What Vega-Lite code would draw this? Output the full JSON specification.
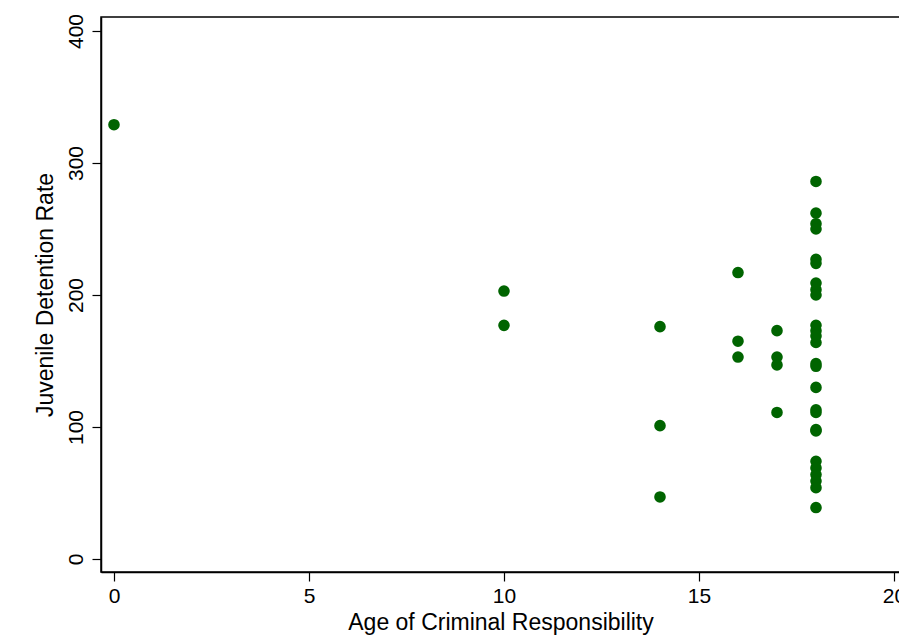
{
  "$schema": "https://vega.github.io/schema/vega-lite/v6.json",
  "autosize": {"type": "none"},
  "padding": {"left": 101, "top": 17, "right": 0, "bottom": 69},
  "width": 799,
  "height": 555,
  "background": "white",
  "config": {
    "view": {"stroke": "black", "strokeWidth": 1.5},
    "font": "Liberation Sans"
  },
  "data": {
    "values": [
      {"age": 0, "rate": 329},
      {"age": 10, "rate": 203},
      {"age": 10, "rate": 177},
      {"age": 14, "rate": 176},
      {"age": 14, "rate": 101},
      {"age": 14, "rate": 47},
      {"age": 16, "rate": 217},
      {"age": 16, "rate": 165},
      {"age": 16, "rate": 153},
      {"age": 17, "rate": 173},
      {"age": 17, "rate": 153},
      {"age": 17, "rate": 147},
      {"age": 17, "rate": 111},
      {"age": 18, "rate": 286},
      {"age": 18, "rate": 262},
      {"age": 18, "rate": 254},
      {"age": 18, "rate": 250},
      {"age": 18, "rate": 227},
      {"age": 18, "rate": 224},
      {"age": 18, "rate": 209},
      {"age": 18, "rate": 204},
      {"age": 18, "rate": 200},
      {"age": 18, "rate": 177},
      {"age": 18, "rate": 173},
      {"age": 18, "rate": 169},
      {"age": 18, "rate": 164},
      {"age": 18, "rate": 148},
      {"age": 18, "rate": 146},
      {"age": 18, "rate": 130},
      {"age": 18, "rate": 113},
      {"age": 18, "rate": 111},
      {"age": 18, "rate": 98},
      {"age": 18, "rate": 97},
      {"age": 18, "rate": 74},
      {"age": 18, "rate": 69},
      {"age": 18, "rate": 64},
      {"age": 18, "rate": 59},
      {"age": 18, "rate": 54},
      {"age": 18, "rate": 39}
    ]
  },
  "mark": {"type": "circle", "color": "#006400", "opacity": 1, "size": 135},
  "encoding": {
    "x": {
      "field": "age",
      "type": "quantitative",
      "title": "Age of Criminal Responsibility",
      "scale": {"domain": [-0.333, 20.154], "nice": false, "zero": false},
      "axis": {
        "values": [0, 5, 10, 15, 20],
        "grid": false,
        "domainColor": "black",
        "domainWidth": 1.5,
        "tickColor": "black",
        "tickWidth": 1.2,
        "tickSize": 9,
        "labelFontSize": 21,
        "labelColor": "black",
        "labelPadding": 4,
        "labelFlush": false,
        "labelOverlap": false,
        "titleFontSize": 23,
        "titleFontWeight": "normal",
        "titleColor": "black",
        "titlePadding": 5
      }
    },
    "y": {
      "field": "rate",
      "type": "quantitative",
      "title": "Juvenile Detention Rate",
      "scale": {"domain": [-9.85, 410.6], "nice": false, "zero": false},
      "axis": {
        "values": [0, 100, 200, 300, 400],
        "grid": false,
        "domainColor": "black",
        "domainWidth": 1.5,
        "tickColor": "black",
        "tickWidth": 1.2,
        "tickSize": 9,
        "labelFontSize": 21,
        "labelColor": "black",
        "labelAngle": 270,
        "labelAlign": "center",
        "labelBaseline": "bottom",
        "labelPadding": 6,
        "labelFlush": false,
        "labelOverlap": false,
        "titleFontSize": 23,
        "titleFontWeight": "normal",
        "titleColor": "black",
        "titlePadding": 8
      }
    }
  }
}
